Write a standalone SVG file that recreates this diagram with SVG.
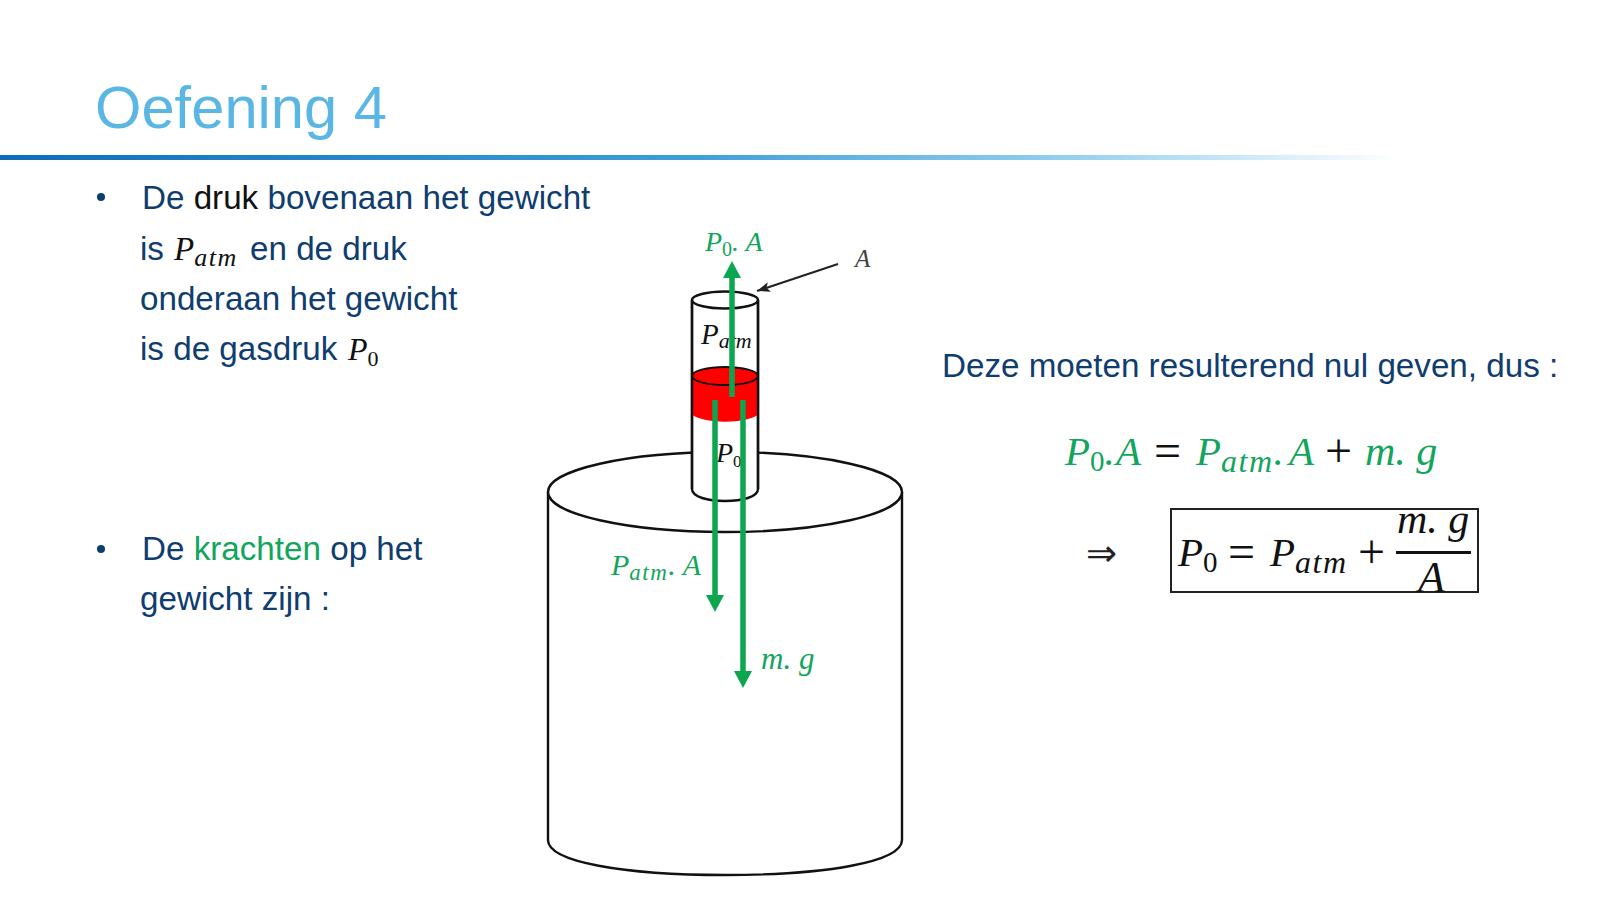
<svg xmlns="http://www.w3.org/2000/svg" width="1600" height="900" viewBox="0 0 1600 900">
<style>
.b{font:33.2px "Liberation Sans",Arial,sans-serif;fill:#0f3d70}
.m{font-family:"Liberation Serif","Times New Roman",serif;font-style:italic}
.r{font-family:"Liberation Serif","Times New Roman",serif;font-size:48px;fill:#111}
.u{font-style:normal}
.s{letter-spacing:1.5px}
.g{fill:#12a55c}
.k{fill:#111}
.o{fill:none;stroke:#111;stroke-width:2.4}
.w{fill:#fff;stroke:#111;stroke-width:2.4}
.ar{stroke:#0ca650;stroke-width:5.5;fill:none}
</style>
<defs>
<linearGradient id="rule" x1="0" x2="1" y1="0" y2="0">
<stop offset="0" stop-color="#0f6db8"/><stop offset="0.5" stop-color="#3f9fdb"/><stop offset="0.75" stop-color="#8fcdee"/><stop offset="1" stop-color="#fff"/>
</linearGradient>
<clipPath id="boxclip"><rect x="1169" y="509" width="309" height="83"/></clipPath>
<marker id="gh" markerUnits="userSpaceOnUse" markerWidth="18" markerHeight="18" refX="1" refY="9" orient="auto"><path d="M0 0L17 9L0 18Z" fill="#0ca650"/></marker>
<marker id="kh" markerUnits="userSpaceOnUse" markerWidth="14" markerHeight="10" refX="13" refY="5" orient="auto"><path d="M0 0L13 5L0 10L3 5Z" fill="#222"/></marker>
</defs>
<g id="title"><text x="95" y="128" font-family="'Liberation Sans',Arial,sans-serif" font-size="59.7" fill="#5ab6e4">Oefening 4</text>
<rect x="0" y="155" width="1400" height="5" fill="url(#rule)"/></g>
<g id="text-left">
<circle cx="101" cy="197" r="4" fill="#0f3d70"/>
<text class="b" x="142" y="209">De <tspan fill="#111">druk</tspan> bovenaan het gewicht</text>
<text class="b" x="140" y="260">is</text>
<text class="m k" x="174" y="260" font-size="33">P<tspan class="s" font-size="26" dy="6">atm</tspan></text>
<text class="b" x="250" y="260">en de druk</text>
<text class="b" x="140" y="310">onderaan het gewicht</text>
<text class="b" x="140" y="360">is de gasdruk</text>
<text class="m k" x="348" y="360" font-size="32">P<tspan class="u" font-size="22" dy="6">0</tspan></text>
<circle cx="101" cy="549" r="4" fill="#0f3d70"/>
<text class="b" x="142" y="560">De <tspan fill="#12a55c">krachten</tspan> op het</text>
<text class="b" x="140" y="610">gewicht zijn :</text>
</g>
<g id="big-cylinder">
<path d="M548 492V840C548 862 624 875 725 875S902 862 902 840V492" class="w"/>
<ellipse cx="725" cy="492" rx="177" ry="40" class="w"/>
</g>
<g id="tube">
<path d="M692 300V489C692 497 708 501 725 501S758 497 758 489V300" class="w"/>
<ellipse cx="725" cy="300" rx="33" ry="8.500" class="w"/>
<path d="M692 376V412C692 417 708 421 725 421S758 417 758 412V376Z" fill="#f00" stroke="#f00" stroke-width="1.500"/>
<ellipse cx="725" cy="376" rx="33" ry="9" fill="#f00" stroke="#111" stroke-width="2"/>
<path d="M692 300V489M758 300V489" class="o"/>
</g>
<g id="labels-tube">
<text class="m k" x="701" y="344" font-size="29">P<tspan font-size="22" dy="4">atm</tspan></text>
<text class="m k" x="716" y="462" font-size="28">P<tspan class="u" font-size="17" dy="5">0</tspan></text>
</g>
<g id="connectors">
<path class="ar" d="M732 397V277" marker-end="url(#gh)"/>
<path class="ar" d="M715 400V596" marker-end="url(#gh)"/>
<path class="ar" d="M743 400V672" marker-end="url(#gh)"/>
<path d="M838 264L757 291" stroke="#222" stroke-width="2" fill="none" marker-end="url(#kh)"/>
</g>
<g id="labels-forces">
<text class="m g" x="705" y="251" font-size="28">P<tspan class="u" font-size="20" dy="5">0</tspan><tspan dy="-5">. A</tspan></text>
<text class="m" x="855" y="267" font-size="25" fill="#444">A</text>
<text class="m g" x="611" y="575" font-size="30">P<tspan class="s" font-size="23" dy="5">atm</tspan><tspan dy="-5">. A</tspan></text>
<text class="m g" x="761" y="669" font-size="31">m. g</text>
</g>
<g id="text-right">
<text class="b" x="942" y="377">Deze moeten resulterend nul geven, dus :</text>
<text class="m g" x="1065" y="465" font-size="41">P<tspan class="u" font-size="29" dy="6">0</tspan><tspan dy="-6">.</tspan></text>
<text class="m g" x="1116" y="465" font-size="41">A</text>
<text class="r" x="1154" y="467">=</text>
<text class="m g" x="1196" y="465" font-size="41">P<tspan class="s" font-size="32" dy="7">atm</tspan><tspan dy="-7">.</tspan></text>
<text class="m g" x="1289" y="465" font-size="41">A</text>
<text class="r" x="1325" y="467">+</text>
<text class="m g" x="1365" y="465" font-size="42">m. g</text>
</g>
<g id="result">
<text x="1086" y="566" font-family="'DejaVu Sans',sans-serif" font-size="37" fill="#222">⇒</text>
<rect x="1171" y="509" width="307" height="83" fill="none" stroke="#222" stroke-width="2"/>
<text class="m k" x="1178" y="566" font-size="41">P<tspan class="u" font-size="29" dy="6">0</tspan></text>
<text class="r" x="1228" y="568">=</text>
<text class="m k" x="1270" y="566" font-size="41">P<tspan class="s" font-size="32" dy="7">atm</tspan></text>
<text class="r" x="1358" y="568">+</text>
<text class="m k" x="1397" y="533" font-size="42">m. g</text>
<path d="M1396 552.500H1471" stroke="#111" stroke-width="3"/>
<text class="m k" x="1418" y="592" font-size="44" clip-path="url(#boxclip)">A</text>
</g>
</svg>
